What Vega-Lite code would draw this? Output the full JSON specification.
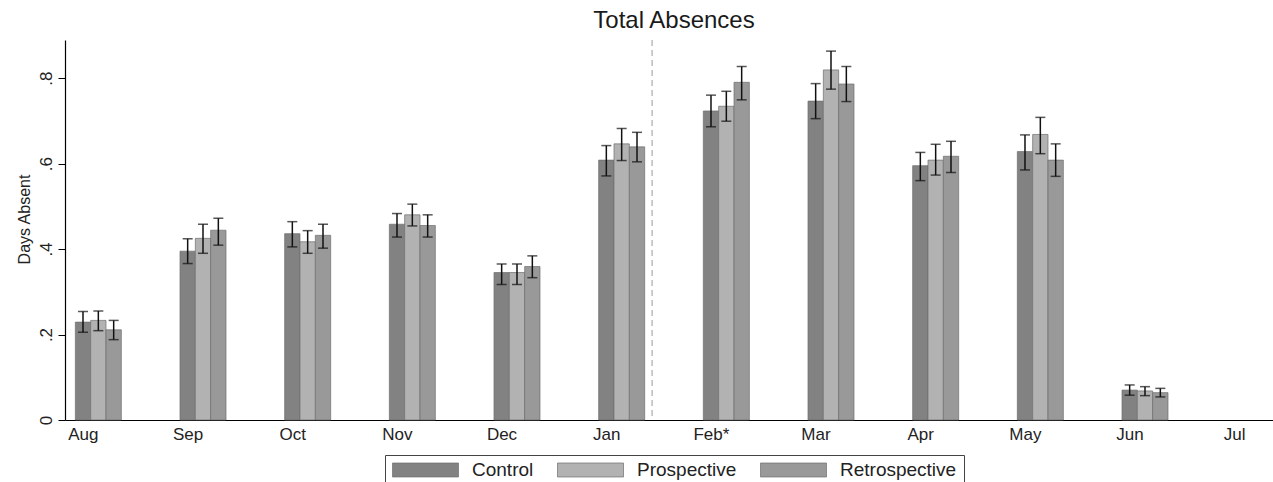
{
  "$schema": "https://vega.github.io/schema/vega-lite/v6.json",
  "width": 1218,
  "height": 380,
  "autosize": {"type": "none"},
  "padding": {"left": 65, "top": 40, "right": 0, "bottom": 62},
  "background": "white",
  "config": {"font": "Liberation Sans", "view": {"stroke": null}},
  "title": {"text": "Total Absences", "fontSize": 24, "fontWeight": "normal", "color": "#1a1a1a", "anchor": "middle", "offset": 7},
  "data": {
    "values": [
      {"month": "Aug", "group": "Control", "value": 0.229, "lo": 0.205, "hi": 0.254},
      {"month": "Aug", "group": "Prospective", "value": 0.233, "lo": 0.209, "hi": 0.255},
      {"month": "Aug", "group": "Retrospective", "value": 0.211, "lo": 0.188, "hi": 0.233},
      {"month": "Sep", "group": "Control", "value": 0.395, "lo": 0.366, "hi": 0.424},
      {"month": "Sep", "group": "Prospective", "value": 0.425, "lo": 0.39, "hi": 0.458},
      {"month": "Sep", "group": "Retrospective", "value": 0.444, "lo": 0.409, "hi": 0.472},
      {"month": "Oct", "group": "Control", "value": 0.436, "lo": 0.405, "hi": 0.464},
      {"month": "Oct", "group": "Prospective", "value": 0.417, "lo": 0.39, "hi": 0.443},
      {"month": "Oct", "group": "Retrospective", "value": 0.432, "lo": 0.402, "hi": 0.458},
      {"month": "Nov", "group": "Control", "value": 0.458, "lo": 0.428, "hi": 0.483},
      {"month": "Nov", "group": "Prospective", "value": 0.48, "lo": 0.454, "hi": 0.505},
      {"month": "Nov", "group": "Retrospective", "value": 0.455, "lo": 0.428, "hi": 0.48},
      {"month": "Dec", "group": "Control", "value": 0.345, "lo": 0.317, "hi": 0.365},
      {"month": "Dec", "group": "Prospective", "value": 0.345, "lo": 0.317, "hi": 0.365},
      {"month": "Dec", "group": "Retrospective", "value": 0.359, "lo": 0.333, "hi": 0.384},
      {"month": "Jan", "group": "Control", "value": 0.608, "lo": 0.571, "hi": 0.642},
      {"month": "Jan", "group": "Prospective", "value": 0.646, "lo": 0.607, "hi": 0.682},
      {"month": "Jan", "group": "Retrospective", "value": 0.639, "lo": 0.604, "hi": 0.673},
      {"month": "Feb*", "group": "Control", "value": 0.723, "lo": 0.686, "hi": 0.76},
      {"month": "Feb*", "group": "Prospective", "value": 0.734, "lo": 0.699, "hi": 0.769},
      {"month": "Feb*", "group": "Retrospective", "value": 0.79, "lo": 0.749, "hi": 0.827},
      {"month": "Mar", "group": "Control", "value": 0.746, "lo": 0.705, "hi": 0.787},
      {"month": "Mar", "group": "Prospective", "value": 0.819, "lo": 0.774, "hi": 0.863},
      {"month": "Mar", "group": "Retrospective", "value": 0.786, "lo": 0.745, "hi": 0.827},
      {"month": "Apr", "group": "Control", "value": 0.595, "lo": 0.56, "hi": 0.626},
      {"month": "Apr", "group": "Prospective", "value": 0.608, "lo": 0.573, "hi": 0.645},
      {"month": "Apr", "group": "Retrospective", "value": 0.617, "lo": 0.579, "hi": 0.652},
      {"month": "May", "group": "Control", "value": 0.628, "lo": 0.585, "hi": 0.667},
      {"month": "May", "group": "Prospective", "value": 0.668, "lo": 0.623, "hi": 0.708},
      {"month": "May", "group": "Retrospective", "value": 0.608, "lo": 0.57, "hi": 0.646},
      {"month": "Jun", "group": "Control", "value": 0.07, "lo": 0.058, "hi": 0.082},
      {"month": "Jun", "group": "Prospective", "value": 0.068, "lo": 0.057, "hi": 0.078},
      {"month": "Jun", "group": "Retrospective", "value": 0.064, "lo": 0.054, "hi": 0.074}
    ]
  },
  "encoding": {
    "x": {
      "field": "month",
      "type": "nominal",
      "scale": {"domain": ["Aug", "Sep", "Oct", "Nov", "Dec", "Jan", "Feb*", "Mar", "Apr", "May", "Jun", "Jul"], "paddingInner": 0.5604, "paddingOuter": 0.0987},
      "axis": {"title": null, "labelAngle": 0, "labelFontSize": 17, "labelColor": "#222222", "ticks": false, "domainColor": "#000000", "domainWidth": 1.2, "labelPadding": 6, "labelOffset": -15}
    }
  },
  "layer": [
    {
      "mark": {"type": "bar", "stroke": "#6f6f6f", "strokeWidth": 0.7},
      "encoding": {
        "xOffset": {"field": "group", "type": "nominal", "scale": {"domain": ["Control", "Prospective", "Retrospective"], "paddingInner": 0, "paddingOuter": 0}},
        "y": {
          "field": "value",
          "type": "quantitative",
          "scale": {"domain": [0, 0.889], "nice": false, "zero": true},
          "axis": {
            "title": "Days Absent",
            "values": [0, 0.2, 0.4, 0.6, 0.8],
            "labelExpr": "datum.value == 0 ? '0' : replace(format(datum.value, '.1f'), '0.', '.')",
            "labelAngle": -90,
            "labelAlign": "center",
            "labelBaseline": "bottom",
            "labelFontSize": 17,
            "labelColor": "#222222",
            "labelPadding": 3,
            "tickSize": 7,
            "tickColor": "#000000",
            "domainColor": "#000000",
            "domainWidth": 1.2,
            "grid": false,
            "titleFontSize": 16,
            "titleFontWeight": "normal",
            "titleColor": "#222222",
            "titlePadding": 5,
            "titleY": 179
          }
        },
        "color": {
          "field": "group",
          "type": "nominal",
          "scale": {"domain": ["Control", "Prospective", "Retrospective"], "range": ["#828282", "#b2b2b2", "#999999"]},
          "legend": {
            "orient": "none",
            "legendX": 320,
            "legendY": 415,
            "direction": "horizontal",
            "title": null,
            "strokeColor": "#444444",
            "fillColor": "white",
            "padding": 7,
            "symbolType": "M-1,-0.2121H1V0.2121H-1Z",
            "symbolSize": 4356,
            "clipHeight": 16,
            "symbolOpacity": 1,
            "symbolStrokeColor": "#6f6f6f",
            "symbolStrokeWidth": 0.7,
            "labelFontSize": 19,
            "labelColor": "#222222",
            "labelOffset": 13,
            "columnPadding": 23
          }
        }
      }
    },
    {
      "mark": {"type": "rule", "color": "#111111", "strokeWidth": 1.5},
      "encoding": {
        "xOffset": {"field": "group", "type": "nominal"},
        "y": {"field": "lo", "type": "quantitative"},
        "y2": {"field": "hi"}
      }
    },
    {
      "mark": {"type": "tick", "color": "#111111", "size": 10, "thickness": 1.5},
      "encoding": {
        "xOffset": {"field": "group", "type": "nominal"},
        "y": {"field": "lo", "type": "quantitative"}
      }
    },
    {
      "mark": {"type": "tick", "color": "#111111", "size": 10, "thickness": 1.5},
      "encoding": {
        "xOffset": {"field": "group", "type": "nominal"},
        "y": {"field": "hi", "type": "quantitative"}
      }
    },
    {
      "data": {"values": [{"month": "Jan"}]},
      "mark": {"type": "rule", "color": "#999999", "strokeDash": [6, 4], "strokeWidth": 1},
      "encoding": {
        "x": {"field": "month", "type": "nominal", "bandPosition": 1.161}
      }
    }
  ]
}
